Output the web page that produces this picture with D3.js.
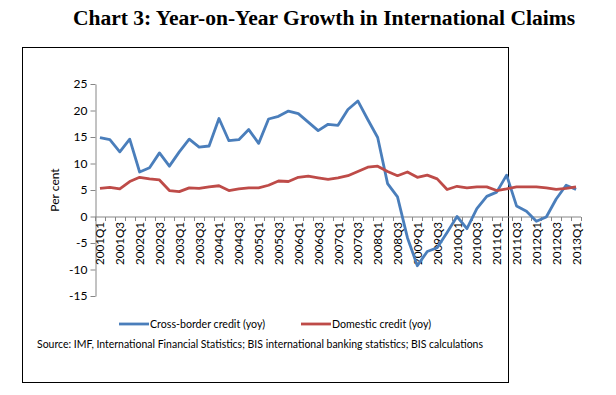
<!DOCTYPE html>
<html>
<head>
<meta charset="utf-8">
<script src="https://d3js.org/d3.v7.min.js"></script>
<style>
  body { margin: 0; background: #fff; }
  text { font-family: Lato, "Open Sans", sans-serif; }
</style>
</head>
<body>
<svg id="chart" width="616" height="395"></svg>
<script>
// quarters 2001Q1 .. 2013Q1
const years = d3.range(2001, 2014);
const quarters = [];
years.forEach(y => [1, 2, 3, 4].forEach(q => { if (y < 2013 || q === 1) quarters.push(y + "Q" + q); }));

const crossBorder = [
  14.9, 14.5, 12.2, 14.6, 8.4, 9.2, 12.0, 9.5, 12.2, 14.6, 13.1, 13.3,
  18.5, 14.3, 14.5, 16.4, 13.8, 18.4, 18.9, 19.9, 19.4, 17.8, 16.2, 17.4,
  17.2, 20.2, 21.8, 18.3, 14.9, 6.2, 3.7, -4.0, -9.3, -6.6, -5.9, -3.0,
  0.0, -2.3, 1.5, 3.8, 4.6, 7.8, 2.0, 1.0, -0.9, -0.1, 3.3, 5.9, 5.1
];
const domestic = [
  5.3, 5.5, 5.2, 6.6, 7.4, 7.1, 6.9, 4.9, 4.7, 5.4, 5.3, 5.6,
  5.8, 4.9, 5.2, 5.4, 5.4, 5.9, 6.7, 6.6, 7.4, 7.6, 7.3, 7.0,
  7.3, 7.7, 8.5, 9.3, 9.5, 8.5, 7.7, 8.4, 7.4, 7.8, 7.1, 5.1,
  5.7, 5.4, 5.6, 5.6, 4.9, 5.2, 5.6, 5.6, 5.6, 5.4, 5.1, 5.3, 5.6
];
const yTicks = [-15, -10, -5, 0, 5, 10, 15, 20, 25];
const seriesNames = ["Cross-border credit (yoy)", "Domestic credit (yoy)"];
const colors = ["#4a7ebb", "#be4b48"];

const svg = d3.select("#chart");

// title
svg.append("text")
  .attr("x", 324).attr("y", 25)
  .attr("text-anchor", "middle")
  .attr("textLength", 502)
  .attr("lengthAdjust", "spacingAndGlyphs")
  .style("font-family", "'Liberation Serif', 'Times New Roman', serif")
  .style("font-weight", "bold")
  .style("font-size", "20px")
  .text("Chart 3: Year-on-Year Growth in International Claims");

// outer frame
svg.append("rect")
  .attr("x", 22.5).attr("y", 47.5)
  .attr("width", 486).attr("height", 335)
  .attr("fill", "none").attr("stroke", "#000").attr("stroke-width", 1);

const x = d3.scaleBand().domain(quarters).range([95, 581]);
const y = d3.scaleLinear().domain([-15, 25]).range([296, 84]);
const cx = d => x(d) + x.bandwidth() / 2;

// y axis
const yAxis = svg.append("g")
  .attr("transform", "translate(95.5,0)")
  .call(d3.axisLeft(y).tickValues(yTicks).tickFormat(d => String(d)).tickSize(5).tickSizeOuter(0));
yAxis.select(".domain").attr("stroke", "#868686");
yAxis.selectAll(".tick line").attr("stroke", "#868686");
yAxis.selectAll(".tick text")
  .attr("x", -8)
  .style("font-family", "Lato, sans-serif")
  .style("font-size", "12px").attr("fill", "#000");

// x axis on the zero line
const xAxis = svg.append("g").attr("transform", "translate(0," + (y(0) + 0.5) + ")");
xAxis.append("line")
  .attr("x1", 95).attr("x2", 581)
  .attr("stroke", "#868686");
xAxis.selectAll("line.tk")
  .data(quarters.concat(["end"]))
  .join("line")
  .attr("class", "tk")
  .attr("x1", (d, i) => Math.round(95 + i * x.step()) + 0.5)
  .attr("x2", (d, i) => Math.round(95 + i * x.step()) + 0.5)
  .attr("y1", 0).attr("y2", 4)
  .attr("stroke", "#868686");
xAxis.selectAll("text")
  .data(quarters.filter((d, i) => i % 2 === 0))
  .join("text")
  .attr("transform", d => "translate(" + (cx(d) + 4.5) + ",5) rotate(-90)")
  .attr("text-anchor", "end")
  .attr("textLength", 43)
  .attr("lengthAdjust", "spacingAndGlyphs")
  .style("font-size", "12px")
  .text(d => d);

// y label
svg.append("text")
  .attr("transform", "translate(59,190) rotate(-90)")
  .attr("text-anchor", "middle")
  .style("font-size", "12px")
  .text("Per cent");

// lines
const line = d3.line().x((d, i) => cx(quarters[i])).y(d => y(d));
[crossBorder, domestic].forEach((s, k) => {
  svg.append("path")
    .datum(s)
    .attr("d", line)
    .attr("fill", "none")
    .attr("stroke", colors[k])
    .attr("stroke-width", 2.8)
    .attr("stroke-linejoin", "round");
});

// legend
const legX = [119, 301];
const legW = [115, 99];
seriesNames.forEach((n, k) => {
  svg.append("line")
    .attr("x1", legX[k]).attr("x2", legX[k] + 30)
    .attr("y1", 324).attr("y2", 324)
    .attr("stroke", colors[k]).attr("stroke-width", 2.8);
  svg.append("text")
    .attr("x", legX[k] + 31).attr("y", 328)
    .attr("textLength", legW[k])
    .attr("lengthAdjust", "spacingAndGlyphs")
    .style("font-size", "12px")
    .text(n);
});

// source
svg.append("text")
  .attr("x", 260).attr("y", 348)
  .attr("text-anchor", "middle")
  .attr("textLength", 446)
  .attr("lengthAdjust", "spacingAndGlyphs")
  .style("font-size", "12px")
  .text("Source: IMF, International Financial Statistics; BIS international banking statistics; BIS calculations");
</script>
</body>
</html>
